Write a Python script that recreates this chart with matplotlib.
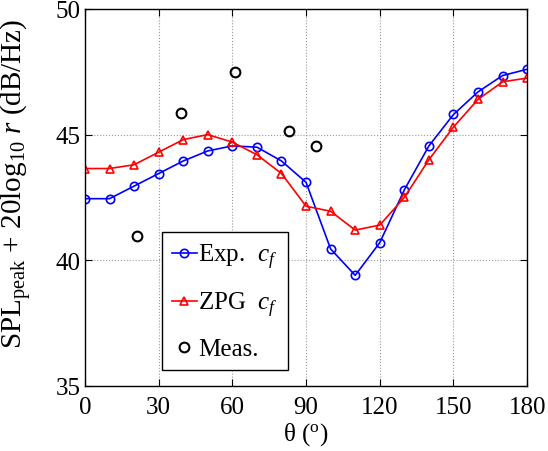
import matplotlib
matplotlib.use("Agg")
import matplotlib.pyplot as plt

plt.rcParams["font.family"] = ["Liberation Serif", "DejaVu Serif"]
plt.rcParams["mathtext.fontset"] = "custom"
plt.rcParams["mathtext.rm"] = "Liberation Serif"
plt.rcParams["mathtext.it"] = "Liberation Serif:italic"
plt.rcParams["font.size"] = 18

# Polar angle (deg) and peak SPL for the two predictions
theta = [0, 10, 20, 30, 40, 50, 60, 70, 80, 90, 100, 110, 120, 130, 140, 150, 160, 170, 180]
spl_exp = [42.45, 42.45, 42.95, 43.45, 43.95, 44.35, 44.55, 44.5, 43.95, 43.1, 40.45,
           39.4, 40.7, 42.8, 44.55, 45.8, 46.7, 47.35, 47.6]
spl_zpg = [43.65, 43.65, 43.8, 44.3, 44.8, 45.0, 44.7, 44.2, 43.45, 42.15, 41.95,
           41.2, 41.4, 42.5, 44.0, 45.3, 46.4, 47.1, 47.25]

# Measured values
theta_meas = [21, 39, 61, 83, 94]
spl_meas = [40.95, 45.85, 47.5, 45.15, 44.55]

fig = plt.figure(figsize=(5.48, 4.52), dpi=100)
ax = fig.add_axes([0.155, 0.144, 0.807, 0.834])

ax.plot(theta, spl_exp, color="b", lw=1.2, marker="o", ms=6, mfc="none", mew=1.2,
        label=r"Exp.  $c_f$")
ax.plot(theta, spl_zpg, color="r", lw=1.2, marker="^", ms=6, mfc="none", mew=1.2,
        label=r"ZPG  $c_f$")
ax.plot(theta_meas, spl_meas, ls="none", color="k", marker="o", ms=7, mfc="none",
        mew=1.5, label="Meas.")

ax.set_xlim(0, 180)
ax.set_ylim(35, 50)
ax.set_xticks([0, 30, 60, 90, 120, 150, 180])
ax.set_yticks([35, 40, 45, 50])
ax.grid(True, ls=":", color="0.6", lw=0.8)
ax.tick_params(direction="in", top=True, right=True, length=5, width=0.8)
ax.tick_params(axis="x", pad=7)
ax.tick_params(axis="y", pad=3)
for s in ax.spines.values():
    s.set_linewidth(1.0)

ax.set_xlabel(r"θ ($^{\rm o}$)", labelpad=2)
ax.set_ylabel(r"SPL$_{\rm peak}$ + 20log$_{10}$ $r$ (dB/Hz)", fontsize=21)
ax.yaxis.set_label_coords(-0.115, 0.54)

leg = ax.legend(loc="lower left", bbox_to_anchor=(0.1735, 0.041), borderaxespad=0,
                fancybox=False, edgecolor="k", framealpha=1, handlelength=1.0,
                handletextpad=0.05, labelspacing=0.75, borderpad=0.4, fontsize=18)
leg.get_frame().set_linewidth(1.0)

fig.savefig("out.png", dpi=100)
